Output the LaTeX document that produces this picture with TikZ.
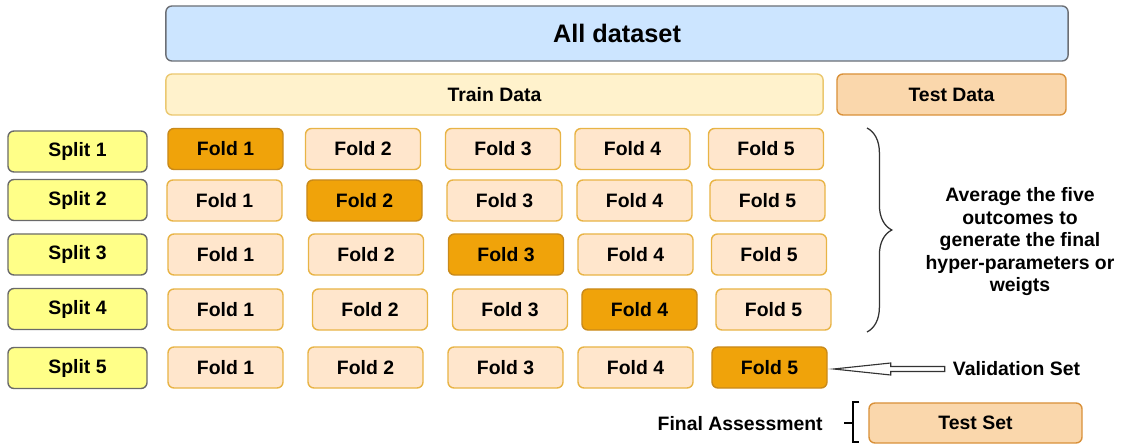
\documentclass[tikz,border=0pt]{standalone}
\usepackage{fontspec}
\setmainfont{Liberation Sans}
\usetikzlibrary{decorations.pathreplacing,calc}
\definecolor{allfill}{HTML}{CCE5FF}
\definecolor{alledge}{HTML}{6C6F75}
\definecolor{trainfill}{HTML}{FFF2CC}
\definecolor{trainedge}{HTML}{EBC870}
\definecolor{testfill}{HTML}{FAD7AC}
\definecolor{testedge}{HTML}{D9913A}
\definecolor{splitfill}{HTML}{FFFF88}
\definecolor{splitedge}{HTML}{6A6A6A}
\definecolor{foldfill}{HTML}{FFE6CC}
\definecolor{foldedge}{HTML}{E8B446}
\definecolor{valfill}{HTML}{F0A30A}
\definecolor{valedge}{HTML}{C98A1A}
\definecolor{bracegray}{HTML}{333333}

\begin{document}
\begin{tikzpicture}[x=0.025cm, y=-0.025cm,
    box/.style={draw, rounded corners=0.15cm, line width=1pt, inner sep=0pt,
                font=\fontsize{13.8}{16}\selectfont\bfseries},
    splitbox/.style={box, draw=splitedge, fill=splitfill, minimum width=3.475cm, minimum height=1.025cm},
    foldbox/.style={box, draw=foldedge, fill=foldfill, minimum width=2.875cm, minimum height=1.025cm},
    valbox/.style={foldbox, draw=valedge, fill=valfill},
    lbl/.style={inner sep=0pt, font=\fontsize{13.8}{16}\selectfont\bfseries}]

    \useasboundingbox (0,0) rectangle (1124,445);

    % Whole dataset and the train/test partition
    \node[box, draw=alledge, fill=allfill, minimum width=22.55cm, minimum height=1.375cm,
          font=\fontsize{18}{22}\selectfont\bfseries] (all) at (617,33.5) {All dataset};
    \node[box, draw=trainedge, fill=trainfill, minimum width=16.425cm, minimum height=1.025cm] (train) at (494.5,94.5) {Train Data};
    \node[box, draw=testedge, fill=testfill, minimum width=5.725cm, minimum height=1.025cm] (test) at (951.5,94.5) {Test Data};

    % Splits and folds (held-out fold on the diagonal)
    \foreach \r/\sy/\y/\xa/\xb/\xc/\xd/\xe in {
        1/151.5/149/225.5/363/503/632.5/766,
        2/200/200.5/224.5/364.5/504.5/634.5/767.5,
        3/254.5/254.5/225.5/366/506/635.5/769,
        4/309/309.5/225.5/370/510/639.5/773.5,
        5/368/367.5/225.5/365.5/505.5/635.5/769.5} {
        \node[splitbox] (s\r) at (77.5,\sy) {Split \r};
        \foreach \j/\x in {1/\xa,2/\xb,3/\xc,4/\xd,5/\xe} {
            \ifnum\j=\r \tikzset{cur/.style=valbox}\else \tikzset{cur/.style=foldbox}\fi
            \node[cur] (f\r\j) at (\x,\y) {Fold \j};
        }
    }

    % Brace over the first four splits
    \coordinate (btop) at (867,128);
    \coordinate (bbot) at (867,332);
    \draw[decorate, decoration={brace, amplitude=0.62cm}, line width=0.9pt, draw=bracegray] (btop) -- (bbot);
    \node[lbl, align=center, font=\fontsize{13.8}{16}\selectfont\bfseries] (avg) at (1020,242)
        {Average the five\\outcomes to\\generate the final\\hyper-parameters or\\weigts};

    % Validation arrow
    \node[lbl] (valtxt) at (1016.5,369) {Validation Set};
    \draw[line width=0.8pt, draw=bracegray, fill=white] ($(f55.east)+(6,1.5)$) coordinate (tip)
        -- ++(57,-6) -- ++(0,3.5) -- ++(54,0) -- ++(0,5) -- ++(-54,0) -- ++(0,3.5) -- cycle;

    % Final assessment on the test set
    \node[box, draw=testedge, fill=testfill, minimum width=5.325cm, minimum height=1cm] (ts) at (975.5,423) {Test Set};
    \node[lbl, anchor=east] (fa) at (823,424) {Final Assessment};
    \draw[line width=1.2pt] ($(ts.north west)+(-9,0)$) -- ++(-6,0) -- ++(0,40) -- ++(6,0);
    \draw[line width=1.2pt] ($(ts.west)+(-15,0)$) -- ++(-9,0);
\end{tikzpicture}
\end{document}
